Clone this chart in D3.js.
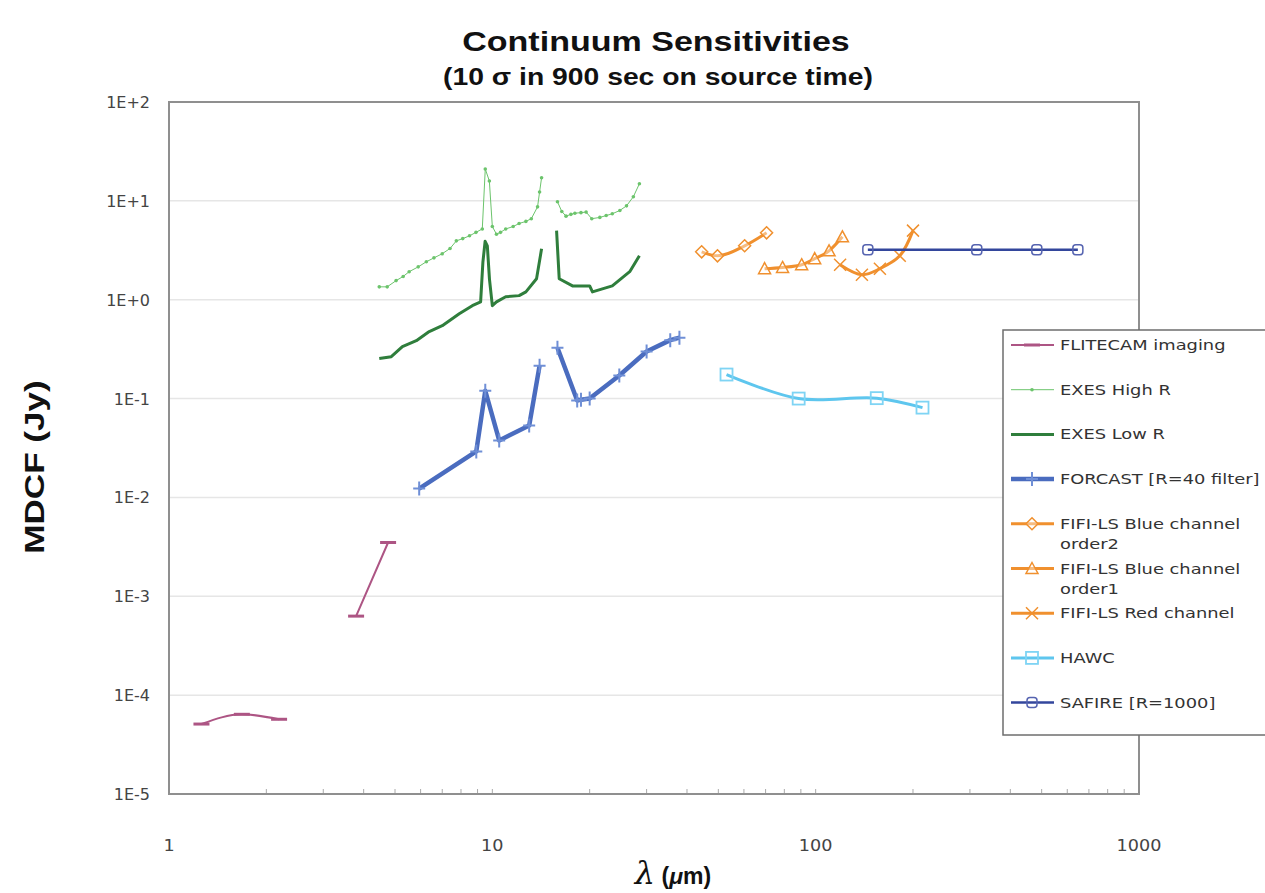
<!DOCTYPE html>
<html>
<head>
<meta charset="utf-8">
<script src="https://cdn.jsdelivr.net/npm/d3@7"></script>
<style>
  body { margin: 0; background: #fff; }
  svg { display: block; }
</style>
</head>
<body>
<svg id="chart" width="1265" height="893"></svg>
<script>
// wavelengths (um) and MDCF (Jy); null = gap in the line
var flitecamX = [1.26, 1.68, 2.19, null, 3.79, 4.76],
    flitecamY = [5.1e-5, 6.4e-5, 5.7e-5, null, 6.3e-4, 3.5e-3];

var exesHighX = [4.47, 4.73, 5.04, 5.3, 5.53, 5.9, 6.25, 6.6, 7.0, 7.4, 7.74, 8.1, 8.5, 8.9, 9.31, 9.51, 9.79, 10.0, 10.3, 10.6, 11.0, 11.6, 12.1, 12.7, 13.2, 13.8, 14.0, 14.2, null, 15.9, 16.4, 16.9, 17.5, 18.0, 18.8, 19.5, 20.3, 21.5, 22.5, 23.5, 24.8, 26.0, 27.3, 28.5],
    exesHighY = [1.35, 1.35, 1.56, 1.72, 1.92, 2.15, 2.42, 2.65, 2.92, 3.3, 3.94, 4.15, 4.43, 4.8, 5.2, 21, 15.9, 5.5, 4.6, 4.8, 5.2, 5.5, 5.9, 6.2, 6.6, 8.7, 12.3, 17.1, null, 9.8, 7.8, 7.0, 7.3, 7.5, 7.6, 7.7, 6.6, 6.8, 7.1, 7.4, 8.0, 8.9, 11.0, 14.9];

var exesLowX = [4.47, 4.87, 5.27, 5.82, 6.38, 7.0, 7.9, 8.67, 9.2, 9.35, 9.5, 9.65, 9.8, 10.0, 10.3, 11.0, 12.1, 12.7, 13.7, 14.2, null, 15.8, 16.1, 17.7, 20.0, 20.4, 23.5, 26.6, 28.5],
    exesLowY = [0.254, 0.265, 0.335, 0.385, 0.476, 0.546, 0.72, 0.87, 0.95, 2.4, 3.9, 3.5, 1.6, 0.87, 0.95, 1.07, 1.1, 1.2, 1.63, 3.27, null, 5.0, 1.63, 1.38, 1.38, 1.2, 1.38, 1.92, 2.78];

var forcastX = [5.94, 8.92, 9.51, 10.5, 13.0, 14.0, null, 15.9, 18.3, 18.8, 20.0, 24.7, 30.0, 35.5, 37.9],
    forcastY = [0.0123, 0.0292, 0.12, 0.0377, 0.0533, 0.215, null, 0.327, 0.0955, 0.0975, 0.1, 0.171, 0.299, 0.39, 0.413];

var fifiB2X = [44.4, 49.7, 60.3, 70.5],
    fifiB2Y = [3.05, 2.78, 3.51, 4.75];

var fifiB1X = [69.5, 79.0, 90.5, 99.3, 110, 121],
    fifiB1Y = [2.06, 2.12, 2.26, 2.6, 3.12, 4.33];

var fifiRX = [119, 139, 158, 182, 200],
    fifiRY = [2.26, 1.79, 2.06, 2.78, 5.0];

var hawcX = [53, 88.6, 154.5, 214],
    hawcY = [0.175, 0.10, 0.101, 0.081];

var safireX = [145, 315, 483, 647],
    safireY = [3.2, 3.2, 3.2, 3.2];

var xTicks = [1, 10, 100, 1000],
    yTicks = [1e-5, 1e-4, 1e-3, 1e-2, 1e-1, 1, 10, 100],
    yTickLabels = ["1E-5", "1E-4", "1E-3", "1E-2", "1E-1", "1E+0", "1E+1", "1E+2"];

function zip(xs, ys) {
  return xs.map(function(x, i) { return {x: x, y: ys[i]}; });
}

var series = [
  {name: ["FLITECAM imaging"], pts: zip(flitecamX, flitecamY), color: "#ad5584", width: 2, marker: "dash", curve: d3.curveMonotoneX},
  {name: ["EXES High R"], pts: zip(exesHighX, exesHighY), color: "#6cc46c", width: 1, marker: "dot", curve: d3.curveLinear},
  {name: ["EXES Low R"], pts: zip(exesLowX, exesLowY), color: "#2f7e3c", width: 3, marker: "none", curve: d3.curveLinear},
  {name: ["FORCAST [R=40 filter]"], pts: zip(forcastX, forcastY), color: "#4a6cbf", width: 4.5, marker: "plus", curve: d3.curveLinear},
  {name: ["FIFI-LS Blue channel", "order2"], pts: zip(fifiB2X, fifiB2Y), color: "#f0902e", width: 3, marker: "diamond", curve: d3.curveMonotoneX},
  {name: ["FIFI-LS Blue channel", "order1"], pts: zip(fifiB1X, fifiB1Y), color: "#f0902e", width: 3, marker: "triangle", curve: d3.curveMonotoneX},
  {name: ["FIFI-LS Red channel"], pts: zip(fifiRX, fifiRY), color: "#f0902e", width: 3, marker: "x", curve: d3.curveCatmullRom},
  {name: ["HAWC"], pts: zip(hawcX, hawcY), color: "#5ec6ee", width: 3, marker: "square", curve: d3.curveCatmullRom},
  {name: ["SAFIRE [R=1000]"], pts: zip(safireX, safireY), color: "#33469c", width: 2.5, marker: "round", curve: d3.curveLinear}
];

var svg = d3.select("#chart");

var x0 = 169, x1 = 1139, y0 = 102, y1 = 794;

var x = d3.scaleLog().domain([1, 1000]).range([x0, x1]),
    y = d3.scaleLog().domain([1e-5, 100]).range([y1, y0]);

// stretch text horizontally like the reference (it was scaled wider)
function stretch(sel, f) {
  sel.each(function() {
    var w = this.getComputedTextLength();
    d3.select(this).attr("textLength", w * f).attr("lengthAdjust", "spacingAndGlyphs");
  });
}

// grid
svg.append("g")
  .selectAll("line")
    .data(yTicks.slice(1, -1))
  .enter().append("line")
    .attr("x1", x0).attr("x2", x1)
    .attr("y1", function(d) { return y(d); })
    .attr("y2", function(d) { return y(d); })
    .style("stroke", "#e6e6e6")
    .style("stroke-width", 1.5);

// minor ticks on the x axis
var minor = [];
[1, 10, 100].forEach(function(dec) {
  for (var k = 2; k <= 10; k++) minor.push(dec * k);
});
svg.append("g")
  .selectAll("line")
    .data(minor)
  .enter().append("line")
    .attr("x1", function(d) { return x(d); })
    .attr("x2", function(d) { return x(d); })
    .attr("y1", y1).attr("y2", y1 - 5)
    .style("stroke", "#aaa")
    .style("stroke-width", 1);

svg.append("rect")
    .attr("x", x0).attr("y", y0)
    .attr("width", x1 - x0).attr("height", y1 - y0)
    .style("fill", "none")
    .style("stroke", "#8f8f8f")
    .style("stroke-width", 2);

// tick labels
svg.append("g")
  .selectAll("text")
    .data(yTicks)
  .enter().append("text")
    .attr("x", 150)
    .attr("y", function(d) { return y(d) + 6; })
    .attr("text-anchor", "end")
    .style("font", "16px 'DejaVu Sans'")
    .style("fill", "#444")
    .text(function(d, i) { return yTickLabels[i]; })
    .call(stretch, 1.0);

svg.append("g")
  .selectAll("text")
    .data(xTicks)
  .enter().append("text")
    .attr("x", function(d) { return x(d); })
    .attr("y", 851)
    .attr("text-anchor", "middle")
    .style("font", "16px 'DejaVu Sans'")
    .style("fill", "#444")
    .text(function(d) { return d; })
    .call(stretch, 1.1);

// titles
svg.append("text")
    .attr("x", 656).attr("y", 51)
    .attr("text-anchor", "middle")
    .style("font", "bold 27px 'Liberation Sans', Arial, sans-serif")
    .style("fill", "#111")
    .text("Continuum Sensitivities")
    .call(stretch, 1.26);

svg.append("text")
    .attr("x", 658).attr("y", 85)
    .attr("text-anchor", "middle")
    .style("font", "bold 23px 'Liberation Sans', Arial, sans-serif")
    .style("fill", "#111")
    .text("(10 σ in 900 sec on source time)")
    .call(stretch, 1.23);

svg.append("text")
    .attr("transform", "translate(44,467)rotate(-90)")
    .attr("text-anchor", "middle")
    .style("font", "bold 27px 'Liberation Sans', Arial, sans-serif")
    .style("fill", "#111")
    .text("MDCF (Jy)")
    .call(stretch, 1.3);

var xt = svg.append("text")
    .attr("x", 673).attr("y", 884)
    .attr("text-anchor", "middle")
    .style("font", "bold 23px 'Liberation Sans', Arial, sans-serif")
    .style("fill", "#111");
xt.append("tspan").style("font", "italic 32px 'DejaVu Serif', serif").text("λ");
xt.append("tspan").text(" (");
xt.append("tspan").style("font-style", "italic").text("μ");
xt.append("tspan").text("m)");

// markers
function marker(g, type, color) {
  if (type === "dash") {
    g.append("line").attr("x1", -8).attr("x2", 8).attr("y1", 0).attr("y2", 0)
      .style("stroke", color).style("stroke-width", 3);
  } else if (type === "dot") {
    g.append("circle").attr("r", 1.8).style("fill", color);
  } else if (type === "plus") {
    g.append("path").attr("d", "M-6,0H6M0,-7V7")
      .style("stroke", "#6f8fd6").style("stroke-width", 2);
  } else if (type === "diamond") {
    g.append("path").attr("d", "M0,-6L6,0L0,6L-6,0Z")
      .style("fill", "#fff").style("fill-opacity", 0.4).style("stroke", color).style("stroke-width", 1.5);
  } else if (type === "triangle") {
    g.append("path").attr("d", "M0,-6L6,5H-6Z")
      .style("fill", "#fff").style("fill-opacity", 0.4).style("stroke", color).style("stroke-width", 1.5);
  } else if (type === "x") {
    g.append("path").attr("d", "M-6,-6L6,6M-6,6L6,-6")
      .style("stroke", color).style("stroke-width", 1.5);
  } else if (type === "square") {
    g.append("rect").attr("x", -6).attr("y", -6).attr("width", 12).attr("height", 12)
      .style("fill", "none").style("stroke", "#7fd4f4").style("stroke-width", 1.8);
  } else if (type === "round") {
    g.append("rect").attr("x", -5).attr("y", -5).attr("width", 10).attr("height", 10)
      .attr("rx", 3)
      .style("fill", "none").style("stroke", "#5563b0").style("stroke-width", 1.5);
  }
}

var line = d3.line()
    .defined(function(d) { return d.x !== null; })
    .x(function(d) { return x(d.x); })
    .y(function(d) { return y(d.y); });

var plot = svg.append("g");

series.forEach(function(s) {
  plot.append("path")
      .datum(s.pts)
      .attr("d", line.curve(s.curve))
      .style("fill", "none")
      .style("stroke", s.color)
      .style("stroke-width", s.width)
      .style("stroke-linejoin", "round");
  if (s.marker !== "none") {
    plot.selectAll(null)
        .data(s.pts.filter(function(d) { return d.x !== null; }))
      .enter().append("g")
        .attr("transform", function(d) { return "translate(" + x(d.x) + "," + y(d.y) + ")"; })
        .each(function() { marker(d3.select(this), s.marker, s.color); });
  }
});

// legend
var legend = svg.append("g");
legend.append("rect")
    .attr("x", 1003).attr("y", 330)
    .attr("width", 290).attr("height", 405)
    .style("fill", "#fff")
    .style("stroke", "#6e6e6e")
    .style("stroke-width", 1.5);

var item = legend.selectAll(".item")
    .data(series)
  .enter().append("g")
    .attr("class", "item")
    .attr("transform", function(d, i) { return "translate(0," + (345 + i * 44.7) + ")"; });

item.append("line")
    .attr("x1", 1011).attr("x2", 1054)
    .attr("y1", 0).attr("y2", 0)
    .style("stroke", function(d) { return d.color; })
    .style("stroke-width", function(d) { return d.width; });

item.each(function(d) {
  var g = d3.select(this).append("g").attr("transform", "translate(1032,0)");
  if (d.marker !== "none") marker(g, d.marker, d.color);
});

item.each(function(d) {
  var sel = d3.select(this);
  d.name.forEach(function(t, k) {
    sel.append("text")
        .attr("x", 1060)
        .attr("y", 5 + k * 20)
        .style("font", "14.5px 'DejaVu Sans'")
        .style("fill", "#333")
        .text(t)
        .call(stretch, 1.23);
  });
});
</script>
</body>
</html>
